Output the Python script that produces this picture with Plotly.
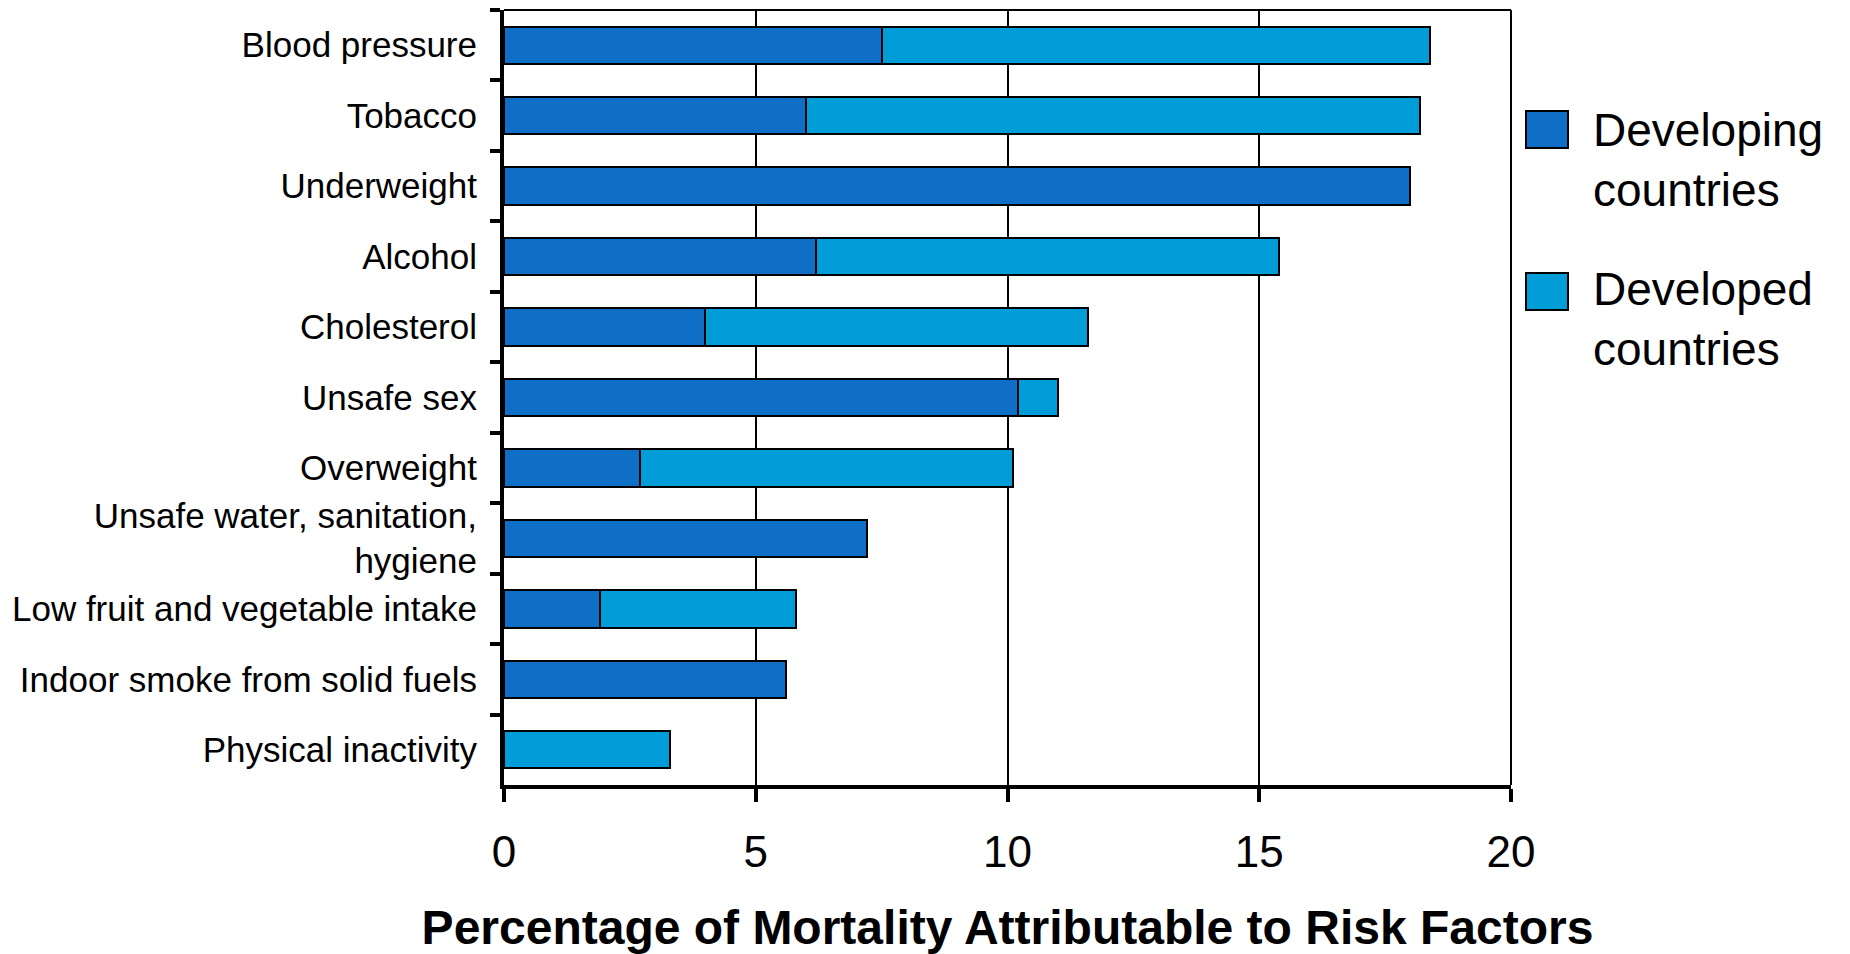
import plotly.graph_objects as go

# Share of mortality attributable to leading risk factors (%)
risk_factors = [
    "Blood pressure",
    "Tobacco",
    "Underweight",
    "Alcohol",
    "Cholesterol",
    "Unsafe sex",
    "Overweight",
    "Unsafe water, sanitation,<br>hygiene",
    "Low fruit and vegetable intake",
    "Indoor smoke from solid fuels",
    "Physical inactivity",
]
developing = [7.5, 6.0, 18.0, 6.2, 4.0, 10.2, 2.7, 7.2, 1.9, 5.6, None]
developed = [10.9, 12.2, None, 9.2, 7.6, 0.8, 7.4, None, 3.9, None, 3.3]

series_names = ["Developing<br>countries", "Developed<br>countries"]
x_ticks = [0, 5, 10, 15, 20]

COLOR_DEVELOPING = "#0F6FC6"
COLOR_DEVELOPED = "#009DD9"
SANS = "Liberation Sans, Arial, sans-serif"

fig = go.Figure()
for vals, color, name in [
    (developing, COLOR_DEVELOPING, series_names[0]),
    (developed, COLOR_DEVELOPED, series_names[1]),
]:
    fig.add_trace(go.Bar(
        y=risk_factors,
        x=vals,
        orientation="h",
        name=name,
        marker=dict(color=color, line=dict(color="black", width=2)),
        showlegend=False,
    ))

fig.update_layout(
    width=1850,
    height=954,
    margin=dict(l=504, r=339, t=10, b=169, autoexpand=False),
    paper_bgcolor="white",
    plot_bgcolor="white",
    barmode="stack",
    bargap=0.47,
    showlegend=False,
)

fig.update_xaxes(
    range=[0, 20],
    tickvals=x_ticks,
    ticks="outside",
    ticklen=13,
    tickwidth=4,
    tickcolor="black",
    showline=True,
    linewidth=4,
    linecolor="black",
    showgrid=True,
    gridcolor="black",
    gridwidth=1.5,
    zeroline=False,
    tickfont=dict(family=SANS, size=44, color="black"),
    ticklabelstandoff=12,
    title=dict(
        text="<b>Percentage of Mortality Attributable to Risk Factors</b>",
        font=dict(family=SANS, size=48, color="black"),
        standoff=38,
    ),
)

fig.update_yaxes(
    type="category",
    categoryorder="array",
    categoryarray=risk_factors,
    range=[len(risk_factors) - 0.5, -0.5],
    tickson="boundaries",
    ticks="outside",
    ticklen=10,
    tickwidth=4,
    tickcolor="black",
    showline=True,
    linewidth=4,
    linecolor="black",
    showgrid=False,
    zeroline=False,
    tickfont=dict(family=SANS, size=35, color="black"),
    ticklabelstandoff=16,
)

# thin frame on the top and right edges of the plot area
fig.add_shape(type="line", xref="paper", yref="paper", x0=0, x1=1, y0=1, y1=1,
              line=dict(color="black", width=2))
fig.add_shape(type="line", xref="paper", yref="paper", x0=1, x1=1, y0=0, y1=1,
              line=dict(color="black", width=2))

# legend: large swatches with two-line labels
legend_rows = [
    (COLOR_DEVELOPING, series_names[0], 0.8697, 0.8219, 0.806),
    (COLOR_DEVELOPED, series_names[1], 0.6606, 0.6129, 0.601),
]
for color, label, top, bottom, mid in legend_rows:
    fig.add_shape(type="rect", xref="paper", yref="paper",
                  x0=1.0149, x1=1.0566, y0=bottom, y1=top,
                  fillcolor=color, line=dict(color="black", width=2))
    fig.add_annotation(xref="paper", yref="paper", x=1.0795, y=mid,
                       xanchor="left", yanchor="middle", align="left",
                       showarrow=False, text=label,
                       font=dict(family=SANS, size=46, color="black"))

fig.write_html("out.html")
